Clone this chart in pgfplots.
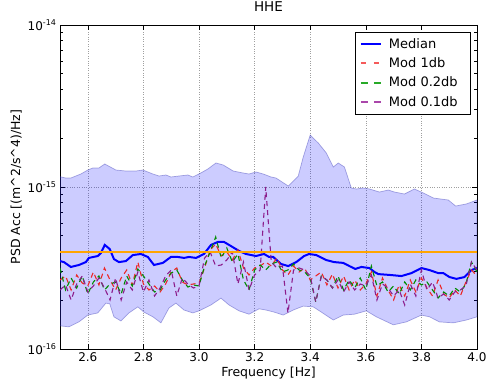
\documentclass[border=0pt]{standalone}
\usepackage{fontspec}
\setmainfont{DejaVu Sans}
\usepackage{pgfplots}
\pgfplotsset{compat=1.18}
\usepgfplotslibrary{fillbetween}
\definecolor{modred}{RGB}{235,40,40}
\definecolor{modgreen}{RGB}{0,140,0}
\definecolor{modpurple}{RGB}{140,30,140}
\definecolor{medblue}{RGB}{0,0,255}
\definecolor{orangeline}{RGB}{255,165,0}
\definecolor{legred}{RGB}{245,90,90}
\definecolor{leggreen}{RGB}{40,170,40}
\definecolor{legpurple}{RGB}{170,70,170}
\begin{document}
\begin{tikzpicture}
\begin{axis}[
  scale only axis, width=417pt, height=324pt,
  xmin=2.5, xmax=4.0, ymode=log, ymin=1e-16, ymax=1e-14,
  xtick={2.6,2.8,3.0,3.2,3.4,3.6,3.8,4.0},
  xticklabels={2.6,2.8,3.0,3.2,3.4,3.6,3.8,4.0},
  ytick={1e-16,1e-15,1e-14},
  yticklabels={10\textsuperscript{-16},10\textsuperscript{-15},10\textsuperscript{-14}},
  tick align=inside,
  major tick length=5pt, minor tick length=3pt,
  tick style={black, line width=0.6pt},
  axis line style={black, line width=0.9pt},
  grid=major, major grid style={dotted, gray!75, line width=0.6pt},
  every tick label/.append style={font=\fontsize{12}{14}\selectfont},
  title={HHE},
  title style={font=\fontsize{13.5}{16}\selectfont, at={(axis description cs:0.5,1.038)}, anchor=center},
  xlabel={Frequency [Hz]},
  xlabel style={font=\fontsize{12.5}{14}\selectfont, at={(axis description cs:0.5,-0.075)}, anchor=center},
  ylabel={PSD Acc [(m\textasciicircum 2/s\textasciicircum 4)/Hz]},
  ylabel style={font=\fontsize{12.5}{14}\selectfont, at={(axis description cs:-0.105,0.5)}, anchor=center},
  legend style={at={(axis description cs:0.983,0.978)}, anchor=north east, draw=black, fill=white,
    font=\fontsize{13}{15}\selectfont, row sep=4pt, inner xsep=5pt, inner ysep=4pt,
    nodes={inner xsep=7pt}},
  legend cell align=left,
]
% upper and lower band edges
\addplot[name path=up, draw=none, forget plot] coordinates {
(2.500,11.57e-16) (2.521,11.36e-16) (2.539,11.36e-16) (2.575,12.03e-16) (2.600,12.73e-16)
(2.618,13.10e-16) (2.640,13.10e-16) (2.661,13.87e-16) (2.701,12.73e-16) (2.737,12.55e-16)
(2.773,12.55e-16) (2.798,12.73e-16) (2.834,12.03e-16) (2.856,11.69e-16) (2.881,11.86e-16)
(2.899,11.53e-16) (2.928,11.69e-16) (2.960,11.86e-16) (2.978,11.53e-16) (3.000,12.03e-16)
(3.032,12.92e-16) (3.061,14.07e-16) (3.087,13.67e-16) (3.123,12.55e-16) (3.159,12.20e-16)
(3.180,12.03e-16) (3.205,12.38e-16) (3.231,12.03e-16) (3.259,11.53e-16) (3.277,11.36e-16)
(3.321,10.14e-16) (3.357,11.69e-16) (3.375,15.32e-16) (3.400,20.94e-16) (3.429,18.69e-16)
(3.458,16.22e-16) (3.483,13.29e-16) (3.501,14.07e-16) (3.523,13.29e-16) (3.548,9.86e-16)
(3.566,9.72e-16) (3.591,9.86e-16) (3.613,9.72e-16) (3.649,9.31e-16) (3.681,9.58e-16)
(3.703,9.31e-16) (3.739,9.05e-16) (3.775,9.72e-16) (3.807,9.18e-16) (3.843,8.55e-16)
(3.897,8.31e-16) (3.923,7.63e-16) (3.962,7.86e-16) (4.000,8.31e-16)
};
\addplot[name path=lo, draw=none, forget plot] coordinates {
(2.500,1.39e-16) (2.532,1.37e-16) (2.568,1.47e-16) (2.600,1.62e-16) (2.636,1.67e-16)
(2.665,1.92e-16) (2.679,1.90e-16) (2.694,1.58e-16) (2.719,1.49e-16) (2.748,1.67e-16)
(2.780,1.82e-16) (2.802,1.69e-16) (2.834,1.58e-16) (2.863,1.45e-16) (2.892,1.79e-16)
(2.917,1.92e-16) (2.946,1.74e-16) (2.978,1.67e-16) (3.000,1.72e-16) (3.043,1.87e-16)
(3.079,2.06e-16) (3.108,1.87e-16) (3.144,1.72e-16) (3.180,1.64e-16) (3.216,1.77e-16)
(3.241,1.74e-16) (3.270,1.69e-16) (3.303,1.62e-16) (3.339,1.74e-16) (3.375,1.84e-16)
(3.411,1.82e-16) (3.440,1.69e-16) (3.483,1.51e-16) (3.519,1.62e-16) (3.559,1.64e-16)
(3.602,1.72e-16) (3.638,1.58e-16) (3.699,1.41e-16) (3.746,1.47e-16) (3.800,1.62e-16)
(3.829,1.58e-16) (3.865,1.47e-16) (3.915,1.45e-16) (3.962,1.51e-16) (4.000,1.58e-16)
};
\addplot[fill=blue, fill opacity=0.2, draw=blue!45!gray, draw opacity=0.45, line width=0.7pt, forget plot]
  fill between[of=up and lo];
% median
\addplot[medblue, line width=2pt,
  legend image code/.code={\draw[medblue, line width=2pt] (0pt,0pt) -- (20pt,0pt);}] coordinates {
(2.500,3.49e-16) (2.514,3.44e-16) (2.539,3.21e-16) (2.568,3.30e-16) (2.593,3.44e-16)
(2.604,3.65e-16) (2.636,3.75e-16) (2.647,3.91e-16) (2.661,4.39e-16) (2.679,4.14e-16)
(2.694,3.59e-16) (2.712,3.44e-16) (2.737,3.49e-16) (2.762,3.80e-16) (2.791,3.86e-16)
(2.816,3.70e-16) (2.838,3.30e-16) (2.870,3.40e-16) (2.899,3.70e-16) (2.924,3.70e-16)
(2.946,3.65e-16) (2.964,3.70e-16) (2.989,3.65e-16) (3.018,3.86e-16) (3.043,4.39e-16)
(3.068,4.58e-16) (3.090,4.58e-16) (3.115,4.32e-16) (3.144,4.03e-16) (3.169,3.86e-16)
(3.205,3.75e-16) (3.234,3.86e-16) (3.252,3.70e-16) (3.267,3.70e-16) (3.295,3.35e-16)
(3.321,3.25e-16) (3.350,3.44e-16) (3.378,3.75e-16) (3.396,3.86e-16) (3.422,3.80e-16)
(3.458,3.54e-16) (3.486,3.44e-16) (3.519,3.40e-16) (3.541,3.25e-16) (3.562,3.12e-16)
(3.584,3.21e-16) (3.613,3.16e-16) (3.631,2.99e-16) (3.645,2.90e-16) (3.692,2.86e-16)
(3.728,2.82e-16) (3.764,2.94e-16) (3.800,3.16e-16) (3.829,3.07e-16) (3.861,2.94e-16)
(3.879,2.94e-16) (3.901,2.78e-16) (3.926,2.71e-16) (3.955,2.78e-16) (3.980,3.07e-16)
(4.000,3.16e-16)
};
\addlegendentry{Median}
% Mod 1db
\addplot[modred, line width=1.1pt, dash pattern=on 5pt off 4pt,
  legend image code/.code={\draw[legred, line width=1.8pt] (0pt,0.6pt) -- (7pt,0.6pt) (13pt,0.6pt) -- (20pt,0.6pt);}] coordinates {
(2.50,2.667e-16) (2.52,2.823e-16) (2.54,2.314e-16) (2.56,2.863e-16) (2.58,2.555e-16)
(2.60,2.449e-16) (2.62,2.988e-16) (2.64,2.484e-16) (2.66,3.162e-16) (2.68,2.667e-16)
(2.70,2.314e-16) (2.72,2.744e-16) (2.74,3.074e-16) (2.76,2.484e-16) (2.78,3.444e-16)
(2.80,2.519e-16) (2.82,2.314e-16) (2.84,2.449e-16) (2.86,2.249e-16) (2.88,2.519e-16)
(2.90,2.988e-16) (2.92,3.162e-16) (2.94,2.592e-16) (2.96,2.484e-16) (2.98,2.519e-16)
(3.00,2.555e-16) (3.02,3.162e-16) (3.04,4.084e-16) (3.06,4.448e-16) (3.08,3.751e-16)
(3.10,3.970e-16) (3.12,3.544e-16) (3.14,4.084e-16) (3.16,3.162e-16) (3.18,2.863e-16)
(3.20,3.162e-16) (3.22,3.254e-16) (3.24,3.444e-16) (3.26,3.254e-16) (3.28,3.646e-16)
(3.30,3.074e-16) (3.32,2.863e-16) (3.34,3.254e-16) (3.36,2.988e-16) (3.38,3.162e-16)
(3.40,2.667e-16) (3.42,2.823e-16) (3.44,2.988e-16) (3.46,2.484e-16) (3.48,2.904e-16)
(3.50,2.380e-16) (3.52,2.823e-16) (3.54,2.314e-16) (3.56,2.667e-16) (3.58,2.314e-16)
(3.60,2.519e-16) (3.62,2.988e-16) (3.64,2.124e-16) (3.66,2.744e-16) (3.68,2.314e-16)
(3.70,2.007e-16) (3.72,2.484e-16) (3.74,2.124e-16) (3.76,2.667e-16) (3.78,2.249e-16)
(3.80,2.744e-16) (3.82,2.380e-16) (3.84,2.124e-16) (3.86,2.667e-16) (3.88,2.186e-16)
(3.90,2.065e-16) (3.92,2.314e-16) (3.94,2.124e-16) (3.96,2.592e-16) (3.98,3.074e-16)
(4.00,2.823e-16)
};
\addlegendentry{Mod 1db}
% Mod 0.2db
\addplot[modgreen, line width=1.1pt, dash pattern=on 5pt off 4pt,
  legend image code/.code={\draw[leggreen, line width=1.6pt, dash pattern=on 7pt off 6pt] (0pt,0pt) -- (20pt,0pt);}] coordinates {
(2.50,3.162e-16) (2.52,2.314e-16) (2.54,2.744e-16) (2.56,2.380e-16) (2.58,2.823e-16)
(2.60,2.186e-16) (2.62,2.592e-16) (2.64,2.823e-16) (2.66,2.314e-16) (2.68,2.519e-16)
(2.70,2.592e-16) (2.72,2.186e-16) (2.74,2.823e-16) (2.76,2.449e-16) (2.78,3.118e-16)
(2.80,2.823e-16) (2.82,2.519e-16) (2.84,2.249e-16) (2.86,2.314e-16) (2.88,2.667e-16)
(2.90,2.946e-16) (2.92,3.074e-16) (2.94,2.667e-16) (2.96,2.414e-16) (2.98,2.484e-16)
(3.00,2.449e-16) (3.02,3.254e-16) (3.04,3.970e-16) (3.06,4.913e-16) (3.08,3.646e-16)
(3.10,4.202e-16) (3.12,3.444e-16) (3.14,3.859e-16) (3.16,2.667e-16) (3.18,2.314e-16)
(3.20,3.074e-16) (3.22,3.301e-16) (3.24,3.074e-16) (3.26,3.348e-16) (3.28,3.444e-16)
(3.30,2.988e-16) (3.32,3.074e-16) (3.34,3.348e-16) (3.36,3.074e-16) (3.38,2.988e-16)
(3.40,2.744e-16) (3.42,1.950e-16) (3.44,2.823e-16) (3.46,2.667e-16) (3.48,2.380e-16)
(3.50,2.823e-16) (3.52,2.314e-16) (3.54,2.667e-16) (3.56,2.380e-16) (3.58,2.744e-16)
(3.60,2.314e-16) (3.62,3.254e-16) (3.64,2.449e-16) (3.66,2.592e-16) (3.68,2.249e-16)
(3.70,2.449e-16) (3.72,2.186e-16) (3.74,2.592e-16) (3.76,2.314e-16) (3.78,2.667e-16)
(3.80,2.484e-16) (3.82,2.592e-16) (3.84,2.314e-16) (3.86,2.065e-16) (3.88,2.249e-16)
(3.90,2.124e-16) (3.92,2.380e-16) (3.94,2.249e-16) (3.96,2.519e-16) (3.98,3.444e-16)
(4.00,2.988e-16)
};
\addlegendentry{Mod 0.2db}
% Mod 0.1db
\addplot[modpurple, line width=1.1pt, dash pattern=on 5pt off 4pt,
  legend image code/.code={\draw[legpurple, line width=1.6pt, dash pattern=on 7pt off 6pt] (0pt,0pt) -- (20pt,0pt);}] coordinates {
(2.50,2.314e-16) (2.52,2.484e-16) (2.54,2.007e-16) (2.56,2.519e-16) (2.58,2.823e-16)
(2.60,2.249e-16) (2.62,2.449e-16) (2.64,2.744e-16) (2.66,2.380e-16) (2.68,2.007e-16)
(2.70,2.744e-16) (2.72,2.007e-16) (2.74,2.592e-16) (2.76,2.314e-16) (2.78,2.988e-16)
(2.80,2.249e-16) (2.82,2.667e-16) (2.84,2.124e-16) (2.86,2.380e-16) (2.88,2.823e-16)
(2.90,3.074e-16) (2.92,2.124e-16) (2.94,2.744e-16) (2.96,2.519e-16) (2.98,2.380e-16)
(3.00,2.449e-16) (3.02,3.646e-16) (3.04,3.970e-16) (3.06,3.254e-16) (3.08,3.301e-16)
(3.10,3.544e-16) (3.12,3.970e-16) (3.14,2.519e-16) (3.16,3.444e-16) (3.18,2.314e-16)
(3.20,2.863e-16) (3.22,3.074e-16) (3.24,10.0e-16) (3.26,3.444e-16) (3.28,3.162e-16)
(3.30,3.254e-16) (3.32,1.668e-16) (3.34,3.074e-16) (3.36,3.162e-16) (3.38,3.074e-16)
(3.40,2.823e-16) (3.42,1.950e-16) (3.44,2.823e-16) (3.46,2.667e-16) (3.48,2.380e-16)
(3.50,2.667e-16) (3.52,2.249e-16) (3.54,2.592e-16) (3.56,2.314e-16) (3.58,2.519e-16)
(3.60,2.449e-16) (3.62,2.863e-16) (3.64,2.007e-16) (3.66,2.519e-16) (3.68,2.380e-16)
(3.70,2.124e-16) (3.72,2.314e-16) (3.74,1.868e-16) (3.76,2.519e-16) (3.78,2.124e-16)
(3.80,3.074e-16) (3.82,2.314e-16) (3.84,2.592e-16) (3.86,2.065e-16) (3.88,2.186e-16)
(3.90,2.007e-16) (3.92,2.249e-16) (3.94,2.314e-16) (3.96,2.449e-16) (3.98,3.444e-16)
(4.00,3.074e-16)
};
\addlegendentry{Mod 0.1db}
% reference level
\addplot[orangeline, line width=1.6pt, forget plot] coordinates {(2.5,3.97e-16) (4.0,3.97e-16)};
\end{axis}
\pgfresetboundingbox
\path (current axis.south west) ++(-60pt,-33pt) rectangle ++(486pt,382pt);
\end{tikzpicture}
\end{document}
